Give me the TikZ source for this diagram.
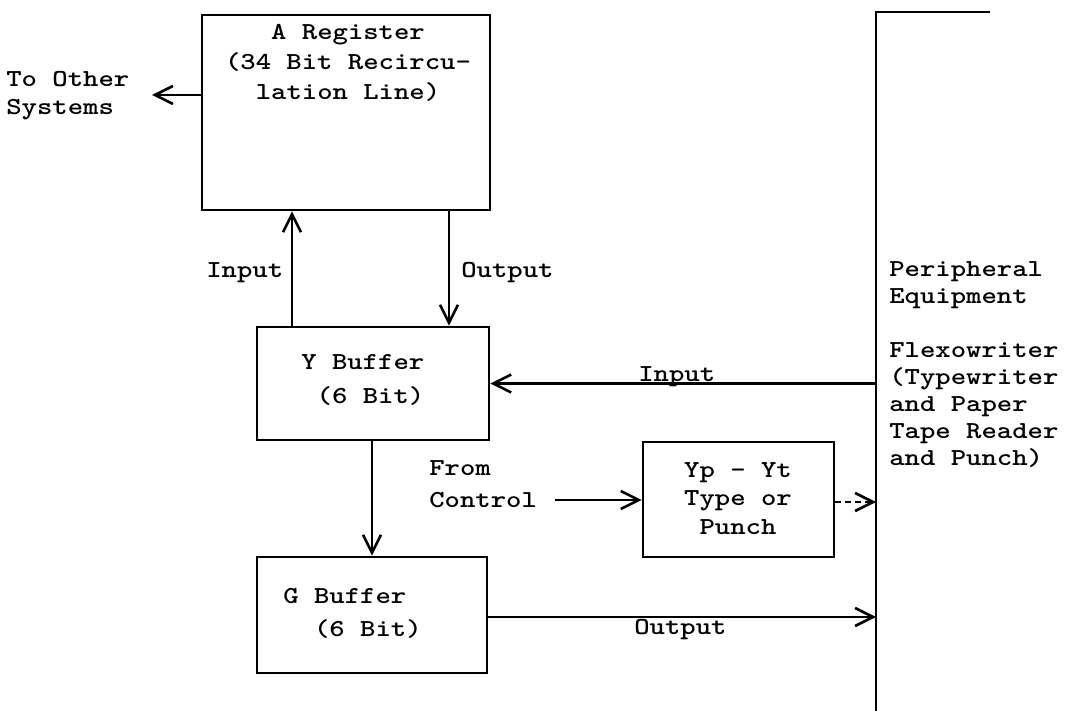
\documentclass[tikz,border=0pt]{standalone}
\usepackage{fontspec}
\newfontfamily\tw[Extension=.otf,FakeStretch=1.2]{lmmonolt10-bold}
\usetikzlibrary{arrows.meta}
\begin{document}
\begin{tikzpicture}[x=0.5pt,y=-0.5pt,
  line width=1.3pt,
  blk/.style={draw, rectangle, inner sep=0pt},
  txt/.style={font=\tw\fontsize{12.2pt}{14pt}\selectfont, inner sep=0pt, align=left},
  ctxt/.style={font=\tw\fontsize{12.2pt}{15pt}\selectfont, inner sep=0pt, align=center},
  arr/.style={-{Straight Barb[length=9pt,width=9pt,line width=1.3pt]}},
  darr/.style={arr, dash pattern=on 3pt off 2pt}
]
\useasboundingbox (0,0) rectangle (1071,711);

% boxes
\node[blk, minimum width=144pt, minimum height=97.5pt] (A) at (346,112.5) {};
\node[blk, minimum width=116pt, minimum height=56.5pt] (Y) at (373,383.5) {};
\node[blk, minimum width=115pt, minimum height=58pt] (G) at (372,615) {};
\node[blk, minimum width=95.5pt, minimum height=57.5pt] (P) at (738.5,499.5) {};

% box texts
\node[ctxt] (Atext) at (348,63) {A Register\\(34 Bit Recircu-\\lation Line)};
\node[txt, anchor=west, font=\tw\fontsize{12.2pt}{17pt}\selectfont] (Ytext) at (300,380) {Y Buffer\\\ (6 Bit)};
\node[txt, anchor=west, font=\tw\fontsize{12.2pt}{16.5pt}\selectfont] (Gtext) at (282,613.5) {G Buffer\\\ \ (6 Bit)};
\node[ctxt, font=\tw\fontsize{12.2pt}{14.25pt}\selectfont] (Ptext) at (738,498.5) {Yp - Yt\\Type or\\Punch};

% peripheral line
\coordinate (ptop) at (990,12);
\coordinate (pcorner) at (876,12);
\coordinate (pbot) at (876,711);
\draw (ptop) -- (pcorner) -- (pbot);
\node[txt, anchor=west, font=\tw\fontsize{12.2pt}{13.5pt}\selectfont] (periph) at (888,364.5)
  {Peripheral\\Equipment\\[13.5pt]Flexowriter\\(Typewriter\\and Paper\\Tape Reader\\and Punch)};

% To other systems
\coordinate (toother) at (152,95);
\draw[arr] (A.west |- toother) -- (toother);
\node[txt, anchor=west] (othertext) at (5,96) {To Other\\Systems};

% Input / Output between A and Y
\coordinate (xin) at (292,0);
\coordinate (xout) at (449,0);
\draw[arr] (Y.north -| xin) -- (A.south -| xin);
\draw[arr] (A.south -| xout) -- (Y.north -| xout);
\node[txt, anchor=west] (inlab) at (205,273) {Input};
\node[txt, anchor=west] (outlab) at (460,273) {Output};

% Input from peripheral
\draw[arr] (Y.east -| pcorner) -- (Y.east);
\node[txt, anchor=base west] (in2lab) at (637,381) {Input};

% Y to G
\coordinate (xyg) at (372,0);
\draw[arr] (Y.south -| xyg) -- (G.north -| xyg);

% From control
\coordinate (fc) at (555,500);
\draw[arr] (fc) -- (P.west |- fc);
\node[txt, anchor=west, font=\tw\fontsize{12.2pt}{16pt}\selectfont] (fctext) at (428,484) {From\\Control};

% Yp-Yt to peripheral (dashed)
\coordinate (pd) at (834,502);
\draw[darr] (P.east |- pd) -- (pd -| pcorner);

% G output
\coordinate (go) at (487,617);
\draw[arr] (G.east |- go) -- (go -| pcorner);
\node[txt, anchor=west] (out2lab) at (633,630) {Output};

\end{tikzpicture}
\end{document}
